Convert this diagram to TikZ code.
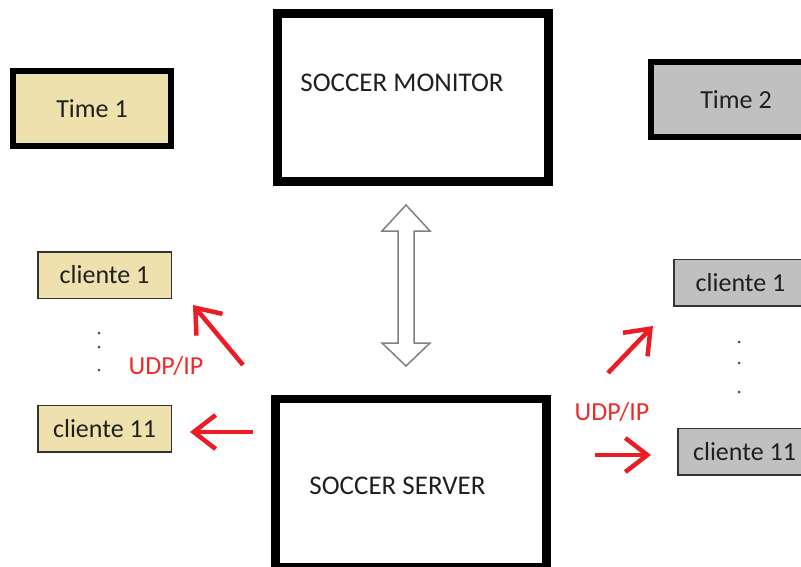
\documentclass[tikz,border=0pt]{standalone}
\usepackage{fontspec}
\setmainfont{Carlito}
\usetikzlibrary{arrows.meta}

\definecolor{timeone}{HTML}{EEE1AE}
\definecolor{timetwo}{HTML}{C0C0C0}
\definecolor{udpred}{HTML}{EE2A2A}
\definecolor{arrowred}{HTML}{EC1C24}

\begin{document}
\begin{tikzpicture}[x=1pt,y=-1pt,
    every node/.style={font=\fontsize{26}{30}\selectfont, text=black!88},
    bigtext/.style={font=\fontsize{27}{31}\selectfont},
    teambox/.style={draw=black, line width=6pt, minimum width=158pt, minimum height=75pt},
    mainbox/.style={draw=black, line width=8.5pt, minimum width=271pt, minimum height=168pt},
    clientbox/.style={draw=black!80, line width=1.5pt, minimum width=133.5pt, minimum height=46.5pt},
    udp/.style={draw=arrowred, line width=4.5pt, -{Straight Barb[length=22pt,width=34pt]}},
    udptext/.style={text=udpred}
]
\useasboundingbox (0,0) rectangle (801,567);
\clip (0,0) rectangle (801,567);

% team boxes
\node[teambox, fill=timeone] (time1) at (92,108.5) {Time 1};
\node[teambox, fill=timetwo, minimum width=170pt] (time2) at (736,99.5) {Time 2};

% monitor and server
\node[mainbox, label={[bigtext,xshift=-11pt,yshift=14.5pt]center:SOCCER MONITOR}] (monitor) at (413,97.5) {};
\node[mainbox, label={[bigtext,xshift=-13.5pt,yshift=-3pt]center:SOCCER SERVER}] (server) at (411,483) {};

% hollow double arrow between monitor and server
\draw[draw=black!50, line width=1.5pt, fill=white, line join=miter]
    (406,205) -- (382,231) -- (398,231) -- (398,343) -- (382,343) -- (406,366)
    -- (430,343) -- (414,343) -- (414,231) -- (430,231) -- cycle;

% clients, team 1
\node[clientbox, fill=timeone] (c1a) at (104.5,275) {cliente 1};
\node[clientbox, fill=timeone] (c11a) at (104.5,428.5) {cliente 11};
\fill[black!70] (99,333) circle (1.5) (99,347) circle (1.5) (99,370) circle (1.5);

% clients, team 2
\node[clientbox, fill=timetwo] (c1b) at (740.5,282.5) {cliente 1};
\node[clientbox, fill=timetwo] (c11b) at (744.5,451.5) {cliente 11};
\fill[black!70] (739,342) circle (1.5) (739,363) circle (1.5) (739,392) circle (1.5);

% UDP/IP links
\node[udptext] (udpa) at (166,366) {UDP/IP};
\node[udptext] (udpb) at (612,412) {UDP/IP};

\coordinate (la) at (243,365);
\coordinate (lb) at (193,305);
\coordinate (lc) at (253,432);
\coordinate (ld) at (190,432);
\coordinate (ra) at (608,373);
\coordinate (rb) at (653,326);
\coordinate (rc) at (595,455);
\coordinate (rd) at (651,455);

\draw[udp] (la) -- (lb);
\draw[udp] (lc) -- (ld);
\draw[udp] (ra) -- (rb);
\draw[udp] (rc) -- (rd);

\end{tikzpicture}
\end{document}
